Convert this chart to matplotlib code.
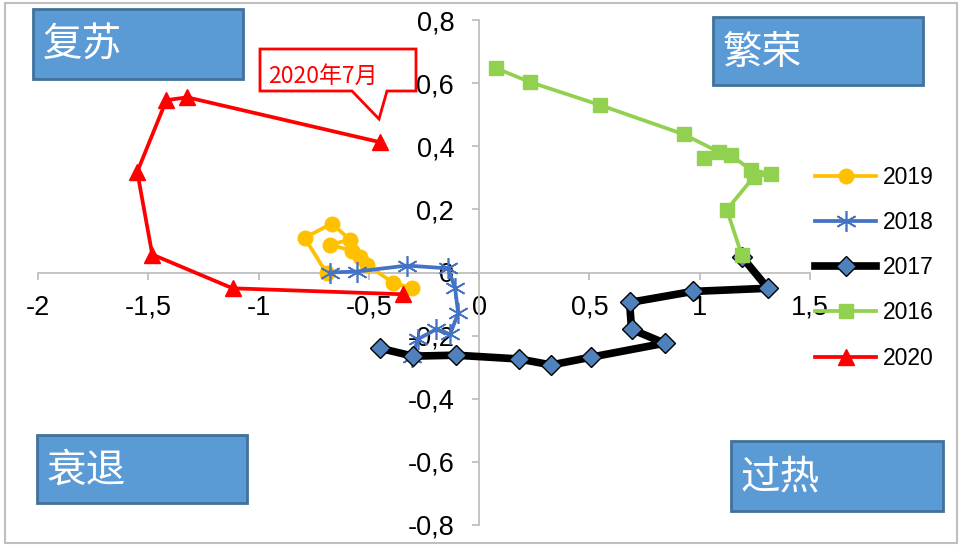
import numpy as np
import matplotlib.pyplot as plt
from matplotlib.patches import Rectangle, Polygon
from matplotlib.ticker import FuncFormatter, MultipleLocator

plt.rcParams['font.family'] = ['Liberation Sans', 'Noto Sans CJK SC', 'DejaVu Sans']

# Data (x, y) per year
x2019 = [-0.691, -0.791, -0.668, -0.586, -0.677, -0.577, -0.541, -0.509, -0.391, -0.305]
y2019 = [-0.003, 0.110, 0.155, 0.104, 0.088, 0.069, 0.050, 0.025, -0.032, -0.050]

x2018 = [-0.677, -0.555, -0.327, -0.141, -0.109, -0.095, -0.132, -0.195, -0.277, -0.305]
y2018 = [0.000, 0.003, 0.022, 0.013, -0.050, -0.129, -0.196, -0.180, -0.211, -0.268]

x2017 = [1.191, 1.309, 0.968, 0.682, 0.691, 0.841, 0.509, 0.327, 0.182, -0.105, -0.300, -0.450]
y2017 = [0.050, -0.050, -0.060, -0.095, -0.180, -0.224, -0.268, -0.293, -0.274, -0.262, -0.265, -0.240]

x2016 = [0.077, 0.232, 0.550, 0.927, 1.086, 1.018, 1.141, 1.232, 1.323, 1.245, 1.123, 1.191]
y2016 = [0.647, 0.603, 0.530, 0.438, 0.382, 0.363, 0.372, 0.325, 0.312, 0.303, 0.199, 0.054]

x2020 = [-0.345, -1.118, -1.482, -1.550, -1.418, -1.323, -0.450]
y2020 = [-0.069, -0.050, 0.057, 0.319, 0.546, 0.555, 0.413]

quadrants = ['复苏', '繁荣', '衰退', '过热']
callout = '2020年7月'

W, H = 962, 550
fig = plt.figure(figsize=(W / 100, H / 100), dpi=100)
ax = fig.add_axes([38 / W, 25 / H, 772 / W, 505 / H])

ax.plot(x2019, y2019, color='#FFC000', lw=2.7, marker='o', ms=10.5, label='2019', zorder=3)
ax.plot(x2018, y2018, color='#4472C4', lw=2.7, marker=(6, 2, 0), ms=15, mew=1.2, label='2018', zorder=4)
ax.plot(x2017, y2017, color='black', lw=5.5, marker='D', ms=10, mfc='#4F81BD', mec='black', mew=1,
        label='2017', zorder=5)
ax.plot(x2016, y2016, color='#92D050', lw=2.7, marker='s', ms=10.5, label='2016', zorder=6)
ax.plot(x2020, y2020, color='#FF0000', lw=2.7, marker='^', ms=12, label='2020', zorder=7)

ax.set_xlim(-2, 1.5)
ax.set_ylim(-0.8, 0.8)
ax.xaxis.set_major_locator(MultipleLocator(0.5))
ax.yaxis.set_major_locator(MultipleLocator(0.2))
fmt = FuncFormatter(lambda v, p: ('%g' % round(v, 2)).replace('.', ','))
ax.xaxis.set_major_formatter(fmt)
ax.yaxis.set_major_formatter(fmt)

for s in ['top', 'right']:
    ax.spines[s].set_visible(False)
ax.spines['left'].set_position(('data', 0))
ax.spines['bottom'].set_position(('data', 0))
for s in ['left', 'bottom']:
    ax.spines[s].set_color('#BFBFBF')
    ax.spines[s].set_linewidth(1.3)
ax.tick_params(axis='both', direction='out', length=5, width=1.3, color='#BFBFBF', labelsize=19.5)
ax.tick_params(axis='x', pad=11)
ax.tick_params(axis='y', pad=13)
ax.patch.set_alpha(0)

leg = fig.legend(loc='upper left', bbox_to_anchor=(794 / W, 1 - 145 / H), frameon=False,
                 fontsize=16.5, handlelength=2.7, labelspacing=0.97, handletextpad=0.3, numpoints=1)

# quadrant boxes (pixel boxes: left, top, right, bottom)
boxes = [(33, 9, 243, 79), (713, 17, 923, 85), (37, 435, 247, 503), (731, 441, 943, 511)]
for (l, t, r, b), name in zip(boxes, quadrants):
    fig.patches.append(Rectangle((l / W, 1 - b / H), (r - l) / W, (b - t) / H, transform=fig.transFigure,
                                 facecolor='#5B9BD5', edgecolor='#41719C', lw=2, zorder=10))
    fig.text((l + 10) / W, 1 - ((t + b) / 2 + 2) / H, name, color='white', fontsize=28.5,
             family=['Noto Sans CJK SC'], va='center', ha='left', zorder=11)

# callout for the last 2020 point
pts = [(260, 49), (416, 49), (416, 91), (387, 91), (379, 119), (352, 91), (260, 91)]
fig.patches.append(Polygon([(x / W, 1 - y / H) for x, y in pts], closed=True, transform=fig.transFigure,
                           facecolor='white', edgecolor='#FF0000', lw=2, zorder=10))
fig.text(268 / W, 1 - 76 / H, callout, color='#FF0000', fontsize=16.5,
         family=['Noto Sans CJK SC'], va='center', ha='left', zorder=11)

# chart border
fig.patches.append(Rectangle((5 / W, 1 - 543 / H), 952 / W, 540 / H, transform=fig.transFigure,
                             facecolor='none', edgecolor='#BFBFBF', lw=1.5, zorder=12))

fig.savefig('out.png', dpi=100)
